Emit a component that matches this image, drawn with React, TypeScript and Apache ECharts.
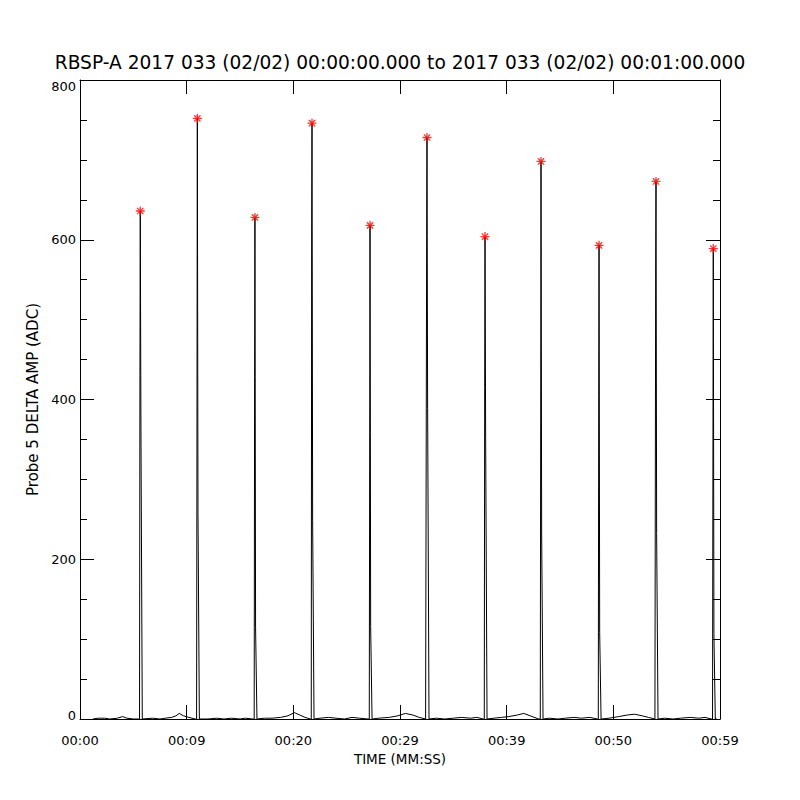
import React, { useEffect, useRef } from "react";
import * as echarts from "echarts";

const titleText = "RBSP-A 2017 033 (02/02) 00:00:00.000 to 2017 033 (02/02) 00:01:00.000";
const xTickLabels = ["00:00", "00:09", "00:20", "00:29", "00:39", "00:50", "00:59"];
const yTickValues = [0, 200, 400, 600, 800];

// spike centres (seconds) and their levels (ADC)
const spikeTimes = [5.65, 11.0, 16.4, 21.75, 27.19, 32.53, 37.97, 43.22, 48.66, 54.0, 59.37];
const spikePeaks = [636, 752, 628, 746, 618, 728, 604, 698, 593, 673, 589];
const spikeRise = [430, 398, 429, 622, 359, 605, 415, 372, 405, 567, 348];
const spikeFall = [372, 259, 115, 249, 116, 389, 352, 234, 108, 232, 107];

// low-level background between spikes
const bgTimes = [
  1.2, 1.7, 2.3, 2.8, 3.5, 4.0, 4.4, 5.0, 5.5,
  6.8, 7.5, 8.0, 8.6, 9.0, 9.3, 9.7, 10.2, 10.8,
  12.0, 12.8, 13.5, 14.2, 15.0, 15.5, 16.2,
  17.3, 18.0, 18.8, 19.5, 20.1, 20.6, 21.1, 21.6,
  22.5, 23.3, 24.0, 24.8, 25.5, 26.2, 27.0,
  28.0, 29.0, 29.8, 30.5, 31.2, 31.8, 32.4,
  33.4, 34.2, 35.0, 35.8, 36.6, 37.2, 37.8,
  38.8, 39.5, 40.2, 41.0, 41.6, 42.2, 43.0,
  44.0, 44.8, 45.5, 46.3, 47.0, 47.8, 48.5,
  49.6, 50.5, 51.3, 52.0, 52.7, 53.3, 53.9,
  54.8, 55.6, 56.3, 57.2, 58.0, 58.6, 59.2, 59.7,
];
const bgValues = [
  0, 1, 1, 0, 1, 3, 1, 0, 0,
  1, 0, 1, 2, 4, 7, 4, 2, 0,
  0, 1, 0, 1, 0, 1, 0,
  1, 1, 2, 4, 8, 5, 2, 0,
  1, 2, 1, 0, 2, 1, 0,
  1, 2, 4, 7, 5, 2, 0,
  1, 0, 1, 2, 1, 2, 0,
  1, 2, 3, 5, 7, 4, 0,
  1, 0, 1, 2, 1, 2, 0,
  1, 3, 5, 6, 4, 2, 0,
  1, 0, 1, 2, 1, 2, 0, 0,
];

const FONT = "DejaVu Sans";

export default function App() {
  const ref = useRef<HTMLDivElement>(null);
  useEffect(() => {
    if (!ref.current) return;
    const chart = echarts.init(ref.current, undefined, { renderer: "svg" });

    const pts: [number, number][] = [];
    bgTimes.forEach((t, i) => pts.push([t, bgValues[i]]));
    spikeTimes.forEach((t, i) => {
      pts.push([t - 0.07, 0]);
      pts.push([t - 0.03, spikeRise[i]]);
      pts.push([t, spikePeaks[i]]);
      pts.push([t + 0.06, spikeFall[i]]);
      pts.push([t + 0.19, 0]);
    });
    pts.sort((a, b) => a[0] - b[0]);

    const peakPts = spikeTimes.map((t, i) => [t, spikePeaks[i]]);

    const axisCommon = {
      axisLine: { show: true, onZero: false, lineStyle: { color: "#000", width: 1 } },
      splitLine: { show: false },
    };
    const tick = { show: true, inside: true, length: 14, lineStyle: { color: "#000" } };
    const minor = { show: true, splitNumber: 4, length: 7, lineStyle: { color: "#000" } };
    const yLabelStyle = { fontFamily: FONT, fontSize: 13, color: "#000" };

    chart.setOption({
      animation: false,
      backgroundColor: "#fff",
      title: {
        text: titleText,
        left: "center",
        top: 48,
        textStyle: { fontFamily: FONT, fontSize: 18.6, fontWeight: "normal", color: "#000" },
      },
      grid: { left: 80, right: 80, top: 80, bottom: 81, containLabel: false },
      xAxis: [
        {
          type: "value",
          min: 0,
          max: 60,
          interval: 10,
          position: "bottom",
          name: "TIME (MM:SS)",
          nameLocation: "middle",
          nameGap: 31,
          nameTextStyle: { fontFamily: FONT, fontSize: 13.5, color: "#000" },
          ...axisCommon,
          axisTick: tick,
          axisLabel: {
            show: true,
            margin: 15,
            fontFamily: FONT,
            fontSize: 13,
            color: "#000",
            formatter: (v: number) => xTickLabels[Math.round(v / 10)] ?? "",
          },
        },
        {
          type: "value",
          min: 0,
          max: 60,
          interval: 10,
          position: "top",
          ...axisCommon,
          axisTick: tick,
          axisLabel: { show: false },
        },
      ],
      yAxis: [
        {
          type: "value",
          min: 0,
          max: 800,
          interval: 200,
          position: "left",
          name: "Probe 5 DELTA AMP (ADC)",
          nameLocation: "middle",
          nameGap: 40,
          nameRotate: 90,
          nameTextStyle: { fontFamily: FONT, fontSize: 15, color: "#000" },
          ...axisCommon,
          axisTick: tick,
          minorTick: minor,
          axisLabel: {
            show: true,
            margin: 4,
            ...yLabelStyle,
            formatter: (v: number) => {
              if (!yTickValues.includes(v)) return "";
              if (v === 800) return "{lo|" + v + "}";
              if (v === 0) return "{hi|" + v + "}";
              return String(v);
            },
            rich: {
              lo: { ...yLabelStyle, padding: [12, 0, 0, 0] },
              hi: { ...yLabelStyle, padding: [0, 0, 8, 0] },
            },
          },
        },
        {
          type: "value",
          min: 0,
          max: 800,
          interval: 200,
          position: "right",
          ...axisCommon,
          axisTick: tick,
          minorTick: minor,
          axisLabel: { show: false },
        },
      ],
      series: [
        {
          type: "line",
          data: pts,
          xAxisIndex: 0,
          yAxisIndex: 0,
          showSymbol: false,
          symbol: "none",
          lineStyle: { color: "#000", width: 1 },
          silent: true,
          z: 2,
        },
        {
          type: "scatter",
          data: peakPts,
          xAxisIndex: 0,
          yAxisIndex: 0,
          symbol: "path://M6,0L6,12M0,6L12,6M1.8,1.8L10.2,10.2M1.8,10.2L10.2,1.8",
          symbolSize: 9,
          itemStyle: { color: "rgba(0,0,0,0)", borderColor: "#ff0000", borderWidth: 1.3 },
          silent: true,
          z: 3,
        },
      ],
    });
    return () => chart.dispose();
  }, []);
  return <div ref={ref} style={{ width: 800, height: 800, margin: -8 }} />;
}
